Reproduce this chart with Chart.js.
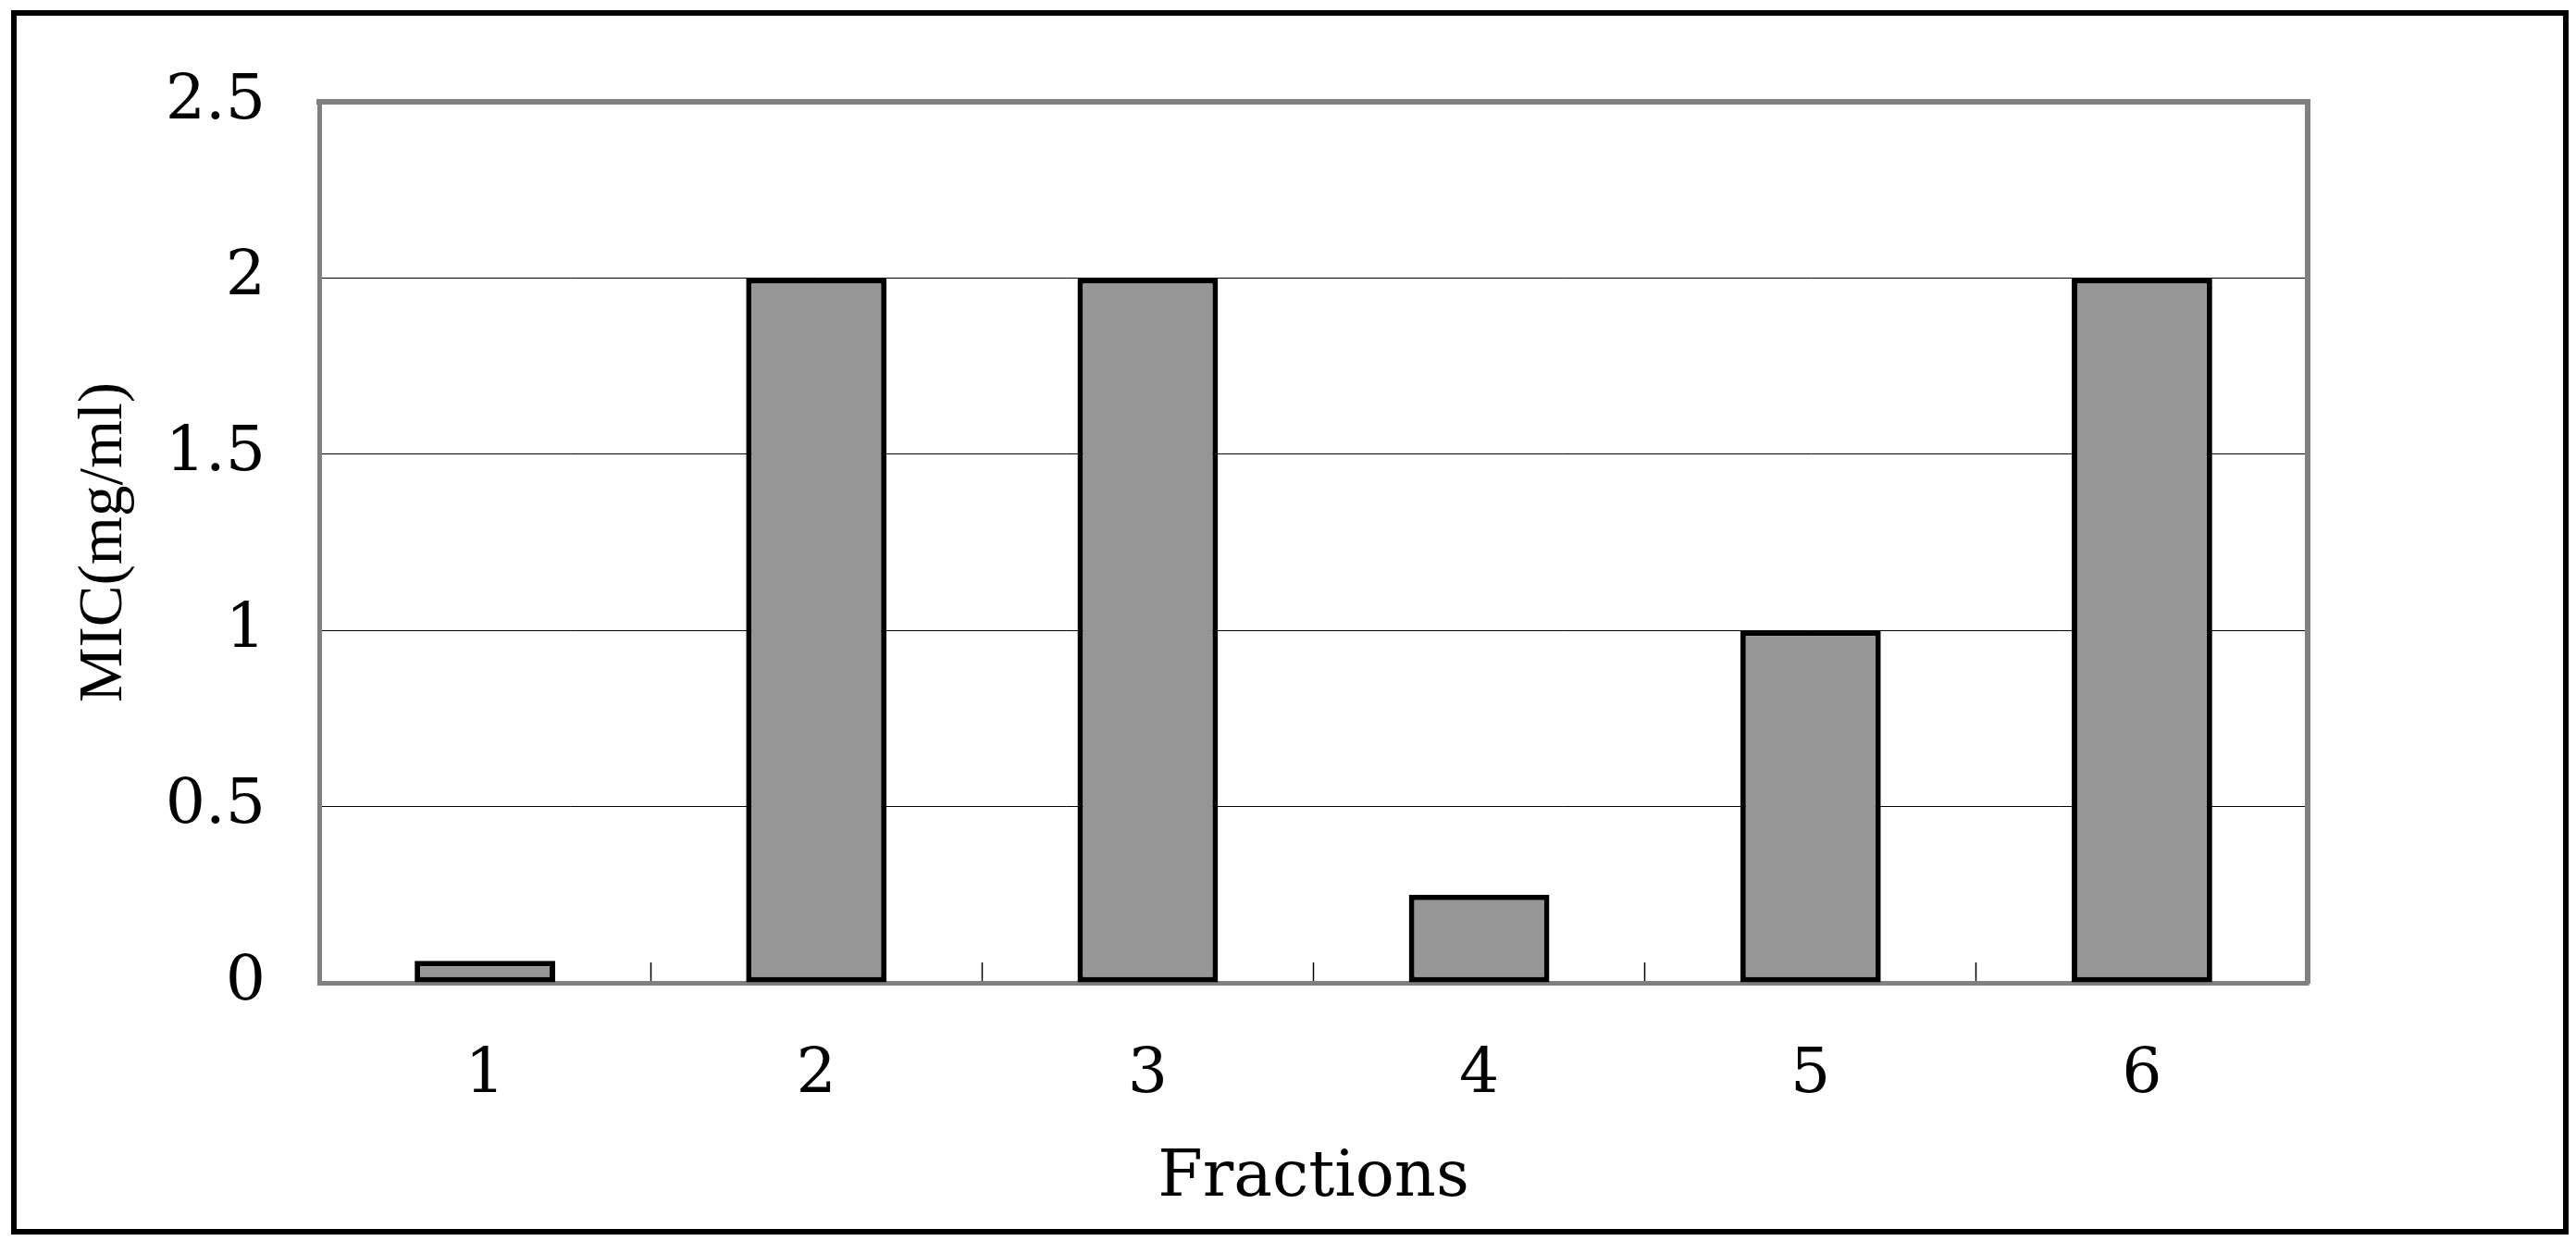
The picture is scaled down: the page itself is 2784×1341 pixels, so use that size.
<!DOCTYPE html>
<html>
<head>
<meta charset="utf-8">
<script src="https://cdn.jsdelivr.net/npm/chart.js@4.4.1/dist/chart.umd.min.js"></script>
<style>
  html, body { margin: 0; padding: 0; background: #fff; overflow: hidden; }
  #wrap { position: relative; width: 2784px; height: 1341px; }
  #frame {
    position: absolute; left: 12px; top: 11px; width: 2764px; height: 1323px;
    border: 6px solid #000; box-sizing: border-box; pointer-events: none;
  }
</style>
</head>
<body>
<div id="wrap">
  <canvas id="micChart"></canvas>
  <div id="frame"></div>
</div>
<script>
// data
const fractions = ["1", "2", "3", "4", "5", "6"];
const micValues = [0.0625, 2, 2, 0.25, 1, 2];
const yTicks = [0, 0.5, 1, 1.5, 2, 2.5];

const serif = "DejaVu Serif";
const axisGray = "#808080";

document.addEventListener("DOMContentLoaded", () => {
  const ctx = document.getElementById("micChart").getContext("2d");
  const micChart = new Chart(ctx, {
    type: "bar",
    data: {
      labels: fractions,
      datasets: [{
        label: "MIC",
        data: micValues,
        backgroundColor: "#969696",
        borderColor: "#000000",
        borderWidth: 6,
        borderSkipped: false,
        barPercentage: 0.424,
        categoryPercentage: 1.0,
      }],
    },
    options: {
      responsive: true,
      maintainAspectRatio: false,
      animation: false,
      devicePixelRatio: 1,
      layout: { padding: { top: 110, right: 290, left: 0, bottom: 0 } },
      plugins: { legend: { display: false }, tooltip: { enabled: false } },
      scales: {
        x: {
          position: "bottom",
          afterFit: (s) => { s.height = 279; },
          grid: {
            display: true,
            drawOnChartArea: false,
            drawTicks: true,
            tickLength: -22,
            tickColor: "#000",
            tickWidth: 1.5,
          },
          border: { display: true, color: axisGray, width: 5 },
          ticks: { color: "#000", padding: 82, font: { family: serif, size: 68 } },
          title: {
            display: true,
            text: "Fractions",
            color: "#000",
            padding: { top: 0, bottom: 25 },
            font: { family: serif, size: 70 },
          },
        },
        y: {
          position: "left",
          min: 0,
          max: 2.5,
          afterFit: (s) => { s.width = 345; },
          afterBuildTicks: (s) => { s.ticks = yTicks.map((v) => ({ value: v })); },
          grid: { color: "#000", lineWidth: 1, drawTicks: false },
          border: { display: true, color: axisGray, width: 5 },
          ticks: {
            color: "#000",
            padding: 58,
            font: { family: serif, size: 68 },
            callback: (v) => String(v),
          },
          title: {
            display: true,
            text: "MIC(mg/ml)",
            color: "#000",
            padding: { top: 73, bottom: 0 },
            font: { family: "Liberation Serif", size: 67 },
          },
        },
        xTop: {
          position: "top",
          afterFit: (s) => { s.height = 0; },
          grid: { display: false, drawTicks: false },
          border: { display: true, color: axisGray, width: 6, z: 1 },
          ticks: { display: false },
        },
        yRight: {
          position: "right",
          afterFit: (s) => { s.width = 0; },
          grid: { display: false, drawTicks: false },
          border: { display: true, color: axisGray, width: 6, z: 1 },
          ticks: { display: false },
        },
      },
    },
  });
});
</script>
</body>
</html>
